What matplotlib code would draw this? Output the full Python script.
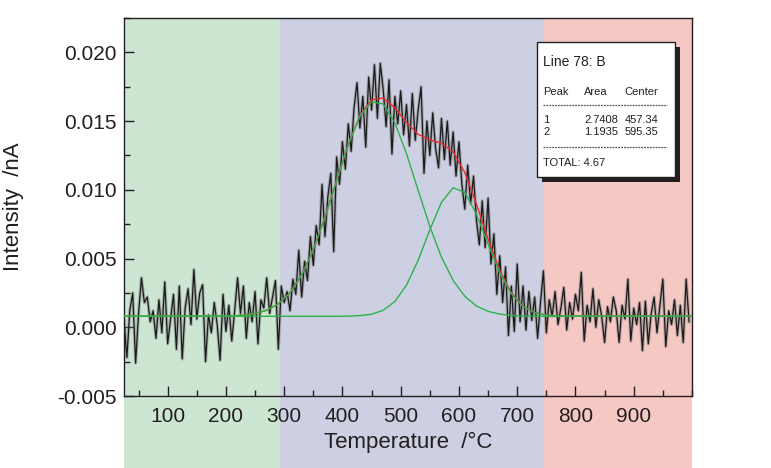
import numpy as np
import matplotlib
matplotlib.use("Agg")
import matplotlib.pyplot as plt
from matplotlib.patches import Rectangle
from matplotlib.ticker import MultipleLocator

plt.rcParams['font.family'] = ['Liberation Sans', 'DejaVu Sans']
plt.rcParams['text.color'] = '#231f20'
plt.rcParams['axes.labelcolor'] = '#231f20'
plt.rcParams['xtick.color'] = '#231f20'
plt.rcParams['ytick.color'] = '#231f20'
plt.rcParams['axes.edgecolor'] = '#231f20'

# measured signal, 5 degC steps from 25 to 1000
signal_low = [
    0.0005, -0.0022, 0.0012, 0.0025, -0.0026, 0.0010, 0.0036, 0.0018, 0.0022, 0.0004,
    0.0012, -0.0008, 0.0020, -0.0004, 0.0033, -0.0012, 0.0006, 0.0024, -0.0016, 0.0030,
    -0.0023, 0.0014, 0.0028, 0.0002, 0.0042, 0.0006, 0.0025, 0.0031, -0.0025, 0.0009,
    -0.0004, 0.0018, 0.0002, -0.0024, 0.0024, -0.0003, 0.0016, -0.0010, 0.0012, 0.0036,
    0.0010, 0.0030, -0.0008, 0.0018, 0.0004, 0.0026, -0.0012, 0.0020, 0.0014, 0.0036,
    0.0010, 0.0022, 0.0034, -0.0016,
]
signal_mid = [
    0.0030, 0.0018, 0.0026, 0.0012, 0.0035, 0.0024, 0.0056, 0.0022, 0.0048, 0.0034,
    0.0066, 0.0045, 0.0074, 0.0060, 0.0104, 0.0066, 0.0095, 0.0112, 0.0055, 0.0124,
    0.0104, 0.0135, 0.0115, 0.0148, 0.0128, 0.0160, 0.0178, 0.0145, 0.0168, 0.0131,
    0.0182, 0.0158, 0.0191, 0.0152, 0.0192, 0.0173, 0.0146, 0.0180, 0.0126, 0.0168,
    0.0148, 0.0172, 0.0140, 0.0162, 0.0132, 0.0170, 0.0136, 0.0158, 0.0175, 0.0112,
    0.0150, 0.0125, 0.0156, 0.0130, 0.0116, 0.0152, 0.0122, 0.0150, 0.0118, 0.0142,
    0.0110, 0.0135, 0.0104, 0.0086, 0.0118, 0.0090, 0.0110, 0.0078, 0.0060, 0.0092,
    0.0058, 0.0094, 0.0046, 0.0068, 0.0024, 0.0052, 0.0018, 0.0044, -0.0006, 0.0030,
    -0.0003, 0.0046, 0.0004, 0.0030, -0.0002, 0.0026, 0.0005, 0.0022, -0.0008, 0.0018,
    0.0041,
]
signal_high = [
    -0.0004, 0.0020, 0.0008, 0.0026, 0.0002, 0.0014, 0.0029, -0.0002, 0.0018, 0.0006,
    0.0024, 0.0012, 0.0040, -0.0010, 0.0016, 0.0004, 0.0028, 0.0000, 0.0020, 0.0008,
    -0.0011, 0.0015, 0.0004, 0.0022, 0.0012, -0.0011, 0.0016, 0.0006, 0.0035, -0.0010,
    0.0014, 0.0002, 0.0018, -0.0017, 0.0019, -0.0012, 0.0010, 0.0022, -0.0004, 0.0016,
    0.0035, -0.0014, 0.0012, 0.0002, 0.0020, -0.0006, 0.0016, -0.0011, 0.0035, 0.0004,
]
signal = signal_low + signal_mid + signal_high
temp = np.arange(25, 25 + 5 * len(signal), 5)

fit_temp = [25] + list(range(190, 791, 20)) + [1000]
peak1 = [0.0008,
         0.00081, 0.00083, 0.00088, 0.00100, 0.00124, 0.00170, 0.00251, 0.00380, 0.00564, 0.00800,
         0.01068, 0.01329, 0.01535, 0.01641, 0.01624, 0.01488, 0.01263, 0.00996, 0.00734, 0.00510,
         0.00341, 0.00226, 0.00155, 0.00116, 0.00096, 0.00086, 0.00082, 0.00081, 0.0008, 0.0008,
         0.0008,
         0.0008]
peak2 = [0.0008,
         0.0008, 0.0008, 0.0008, 0.0008, 0.0008, 0.0008, 0.0008, 0.0008, 0.0008, 0.0008,
         0.0008, 0.00081, 0.00085, 0.00095, 0.00124, 0.00188, 0.00307, 0.00488, 0.00709, 0.00909,
         0.01015, 0.00981, 0.00823, 0.00605, 0.00397, 0.00243, 0.00152, 0.00107, 0.00089, 0.00082,
         0.00081,
         0.0008]
fit_sum = [0.0008,
           0.00081, 0.00083, 0.00088, 0.00100, 0.00124, 0.00170, 0.00251, 0.00380, 0.00564, 0.00800,
           0.01068, 0.01330, 0.01540, 0.01656, 0.01668, 0.01596, 0.01490, 0.01404, 0.01363, 0.01339,
           0.01276, 0.01127, 0.00898, 0.00641, 0.00413, 0.00249, 0.00154, 0.00108, 0.00089, 0.00082,
           0.00081,
           0.0008]

regions = [(25, 292), (292, 746), (746, 1000)]
region_colors = ['#cce6d2', '#cdd0e3', '#f6c8c4']

peaks = ['1', '2']
areas = ['2.7408', '1.1935']
centers = ['457.34', '595.35']
total = '4.67'

fig = plt.figure(figsize=(7.71, 4.68), dpi=100)
ax = fig.add_axes([0.1608, 0.1538, 0.7367, 0.8077])

for (a, b), c in zip(regions, region_colors):
    ax.axvspan(a, b, ymin=-0.2, ymax=1, color=c, lw=0, zorder=0, clip_on=False)

ax.plot(temp, signal, color='#888888', lw=2.4, alpha=0.55, zorder=2)
ax.plot(temp, signal, color='#1a1a1a', lw=0.9, zorder=3)
ax.plot(fit_temp, fit_sum, color='#ee2a2a', lw=1.0, zorder=4)
ax.plot(fit_temp, peak1, color='#2db24a', lw=1.0, zorder=5)
ax.plot(fit_temp, peak2, color='#2db24a', lw=1.0, zorder=5)

ax.set_xlim(25, 1000)
ax.set_ylim(-0.005, 0.0225)
ax.set_xticks([100, 200, 300, 400, 500, 600, 700, 800, 900])
ax.xaxis.set_minor_locator(MultipleLocator(50))
ax.set_yticks([-0.005, 0.0, 0.005, 0.010, 0.015, 0.020])
ax.set_yticklabels(['-0.005', '0.000', '0.005', '0.010', '0.015', '0.020'])
ax.yaxis.set_minor_locator(MultipleLocator(0.0025))
ax.tick_params(which='both', direction='in', top=False, right=False, width=1)
ax.tick_params(which='major', length=7, labelsize=15)
ax.tick_params(which='minor', length=4)
ax.tick_params(axis='x', which='major', pad=8)
ax.tick_params(axis='y', which='major', pad=5)
for s in ax.spines.values():
    s.set_linewidth(1)

ax.set_xlabel('Temperature  /°C', fontsize=16, labelpad=4)
ax.set_ylabel('Intensity  /nA', fontsize=16, labelpad=24)

# results box
bx0, by0, bw, bh = 0.727, 0.580, 0.243, 0.357
ax.add_patch(Rectangle((bx0 + 0.009, by0 - 0.013), bw, bh, transform=ax.transAxes,
                       facecolor='#231f20', edgecolor='none', zorder=6))
ax.add_patch(Rectangle((bx0, by0), bw, bh, transform=ax.transAxes,
                       facecolor='white', edgecolor='#231f20', lw=1, zorder=7))
cols = [0.738, 0.810, 0.881]
ax.text(cols[0], 0.884, 'Line 78: B', transform=ax.transAxes, fontsize=10,
        va='center', zorder=8)
for x, t in zip(cols, ['Peak', 'Area', 'Center']):
    ax.text(x, 0.805, t, transform=ax.transAxes, fontsize=8, va='center', zorder=8)
for i, yy in enumerate([0.730, 0.699]):
    for x, t in zip(cols, [peaks[i], areas[i], centers[i]]):
        ax.text(x, yy, t, transform=ax.transAxes, fontsize=8, va='center', zorder=8)
for yy in [0.770, 0.659]:
    ax.plot([0.738, 0.956], [yy, yy], transform=ax.transAxes, color='#555555',
            lw=0.9, ls=(0, (1.5, 0.8)), zorder=8)
ax.text(cols[0], 0.617, 'TOTAL: ' + total, transform=ax.transAxes, fontsize=8,
        va='center', zorder=8)

fig.savefig('out.png', dpi=100)
